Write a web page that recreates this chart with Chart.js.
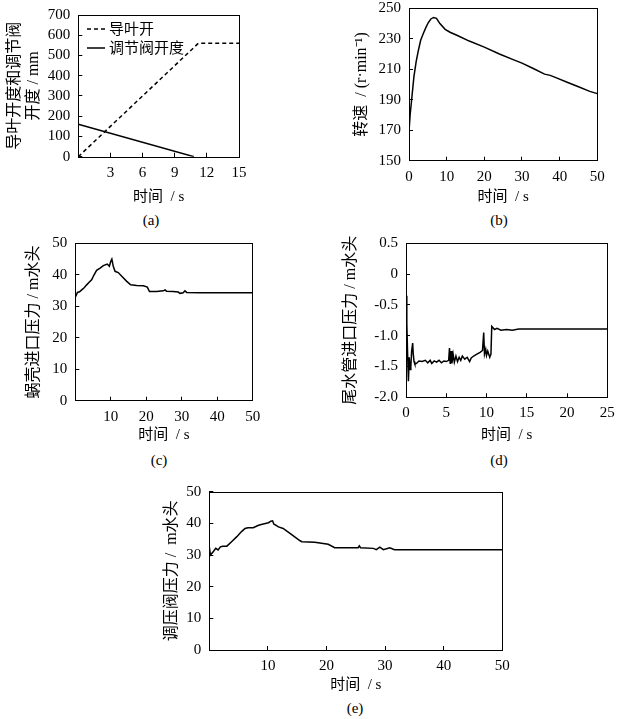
<!DOCTYPE html>
<html>
<head>
<meta charset="utf-8">
<script src="https://cdn.jsdelivr.net/npm/chart.js@4.4.0/dist/chart.umd.min.js"></script>
<style>
    body { margin: 0; background: #fff; }
    #page { position: relative; width: 625px; height: 719px; overflow: hidden;
            font-family: 'Liberation Serif', 'Noto Sans CJK SC', serif; color: #000; }
    canvas { position: absolute; }
    .tag { position: absolute; font-size: 15px; transform: translate(-50%, -50%); white-space: nowrap; }
    .legend { position: absolute; font-size: 15px; line-height: 18px; display: flex; align-items: center; white-space: nowrap; }
    .legend span { margin-left: 4px; }
</style>
</head>
<body>
<div id="page">
    <canvas id="chartA"></canvas>
    <canvas id="chartB"></canvas>
    <canvas id="chartC"></canvas>
    <canvas id="chartD"></canvas>
    <canvas id="chartE"></canvas>

    <div class="legend" style="left:87px;top:20px">
        <svg width="18" height="4"><line x1="0" y1="2" x2="18" y2="2" stroke="#000" stroke-width="1.5" stroke-dasharray="4,3"/></svg>
        <span>导叶开</span>
    </div>
    <div class="legend" style="left:87px;top:39px">
        <svg width="18" height="4"><line x1="0" y1="2" x2="18" y2="2" stroke="#000" stroke-width="1.5"/></svg>
        <span>调节阀开度</span>
    </div>

    <div class="tag" style="left:151px;top:220px">(a)</div>
    <div class="tag" style="left:499px;top:220px">(b)</div>
    <div class="tag" style="left:159px;top:460px">(c)</div>
    <div class="tag" style="left:499px;top:460px">(d)</div>
    <div class="tag" style="left:355px;top:708px">(e)</div>
</div>
<script>
// (a) guide vane and regulating valve opening, mm
const guideTime = [0, 11.2, 15];
const guideOpen = [0, 560, 560];
const valveTime = [0, 10.8];
const valveOpen = [160, 0];

// (b) unit speed, r/min
const speedTime = [0, 0.3, 0.7, 1.3, 1.9, 2.5, 3.1, 3.8, 4.5, 5.1, 5.8, 6.5, 7.3, 8.2, 9.6, 10.9,
    13, 16, 20, 24, 27.5, 30, 33, 36, 37.5, 39, 42, 45, 48, 50];
const speedVals = [169, 180, 190, 205, 215, 222.5, 229, 233.5, 237.5, 240.5, 243, 244, 243.4, 240, 236.2, 234.3,
    232, 228.5, 224.5, 220, 216.5, 214, 210.5, 206.8, 206, 204.5, 201.5, 198.5, 195.5, 194];

// (c) spiral case inlet pressure, m
const spiralTime = [0, 0.3, 0.6, 1.2, 1.8, 2.5, 3.2, 3.9, 4.6, 5.3, 6.0, 7.0, 7.9, 9.0, 9.6, 10.0, 10.3, 10.7, 11.2, 12.1,
    13.1, 14.5, 15.6, 17.3, 19.2, 20.3, 20.9, 22.9, 24.8, 25.3, 25.7, 27.6, 29.0, 29.5, 30.4, 30.9, 31.4, 35, 50];
const spiralPress = [32.9, 33.6, 34.4, 34.6, 35.2, 35.9, 36.8, 37.6, 38.4, 40.0, 41.4, 42.1, 42.9, 43.4, 42.7, 44.3, 45.0, 42.7, 41.1, 40.7,
    39.5, 37.9, 36.8, 36.6, 36.5, 36.1, 34.7, 34.7, 34.9, 35.2, 34.8, 34.7, 34.5, 34.1, 34.3, 34.9, 34.4, 34.3, 34.3];

// (d) draft tube inlet pressure, m
const draftTime = [0, 0.1, 0.2, 0.3, 0.4, 0.5, 0.6, 0.7, 0.83, 0.9, 1.0, 1.1, 1.3, 1.6, 2.0, 2.4, 2.7, 3.0, 3.2, 3.5,
    3.8, 4.1, 4.4, 4.7, 5.0, 5.3, 5.4, 5.5, 5.6, 5.7, 5.85, 6.0, 6.2, 6.4, 6.6, 6.8, 7.0, 7.3, 7.6, 7.9,
    8.1, 8.4, 8.8, 9.2, 9.5, 9.65, 9.75, 9.9, 10.0, 10.15, 10.4, 10.55, 10.65, 11.0, 11.3, 11.8, 12.5, 13.2, 14, 15, 25];
const draftPress = [-0.35, -0.8, -1.3, -1.74, -1.35, -1.55, -1.5, -1.25, -1.12, -1.3, -1.42, -1.46, -1.45, -1.41, -1.42, -1.4, -1.44, -1.4, -1.45, -1.41,
    -1.43, -1.4, -1.44, -1.41, -1.42, -1.4, -1.2, -1.46, -1.25, -1.45, -1.3, -1.43, -1.33, -1.42, -1.35, -1.4, -1.33, -1.38, -1.35, -1.42,
    -1.36, -1.33, -1.3, -1.27, -1.24, -0.95, -1.3, -1.22, -1.32, -1.25, -1.35, -1.3, -0.85, -0.9, -0.88, -0.91, -0.9, -0.91, -0.89, -0.89, -0.89];

// (e) pressure regulating valve pressure, m
const prvTime = [0, 0.2, 0.7, 1.1, 1.5, 1.9, 2.3, 3.0, 3.8, 4.7, 5.5, 6.1, 6.6, 7.5, 8.4, 9.2, 10.1, 10.5, 10.8, 11.0,
    11.8, 12.6, 14.0, 15.5, 15.8, 18.0, 20.3, 21.4, 25.4, 25.6, 25.8, 28.0, 28.5, 29.1, 29.7, 30.8, 31.6, 50];
const prvPress = [32.6, 30.0, 31.1, 32.1, 31.6, 32.6, 32.8, 32.8, 34.2, 35.8, 37.4, 38.4, 38.6, 38.6, 39.4, 39.8, 40.2, 40.7, 40.8, 39.8,
    38.9, 38.4, 36.5, 34.5, 34.2, 34.0, 33.4, 32.3, 32.3, 32.9, 32.3, 32.1, 31.7, 32.5, 31.7, 32.3, 31.7, 31.7];

const X_TITLE = '时间  / s';

Chart.defaults.font.family = "'Liberation Serif', 'Noto Sans CJK SC', serif";
Chart.defaults.font.size = 15;
Chart.defaults.color = '#000';

// box around the plot area
const framePlugin = {
    id: 'frame',
    afterDraw(chart) {
        const { ctx, chartArea: a } = chart;
        ctx.save();
        ctx.strokeStyle = '#000';
        ctx.lineWidth = 1;
        ctx.strokeRect(Math.round(a.left) + 0.5, Math.round(a.top) + 0.5,
            Math.round(a.right - a.left), Math.round(a.bottom - a.top));
        ctx.restore();
    }
};

function toPoints(xs, ys) {
    return xs.map((x, i) => ({ x: x, y: ys[i] }));
}

// keep the plot area where the layout padding puts it:
// fixed axis size and no extra room for overhanging end labels
function fixSize(scale, prop, size) {
    scale[prop] = size;
    scale.paddingLeft = 0;
    scale.paddingRight = 0;
    scale.paddingTop = 0;
    scale.paddingBottom = 0;
}

// inward tick marks, no grid lines
const tickGrid = {
    drawOnChartArea: false,
    drawTicks: true,
    tickLength: -4,
    color: '#000',
    lineWidth: 1
};

function makePanel(p) {
    const canvas = document.getElementById(p.id);
    canvas.width = p.box[2];
    canvas.height = p.box[3];
    canvas.style.left = p.box[0] + 'px';
    canvas.style.top = p.box[1] + 'px';

    return new Chart(canvas, {
        type: 'line',
        data: { datasets: p.datasets },
        options: {
            responsive: false,
            animation: false,
            layout: { padding: { top: p.padTop, right: p.padRight, left: 0, bottom: 0 } },
            plugins: {
                legend: { display: false },
                tooltip: { enabled: false }
            },
            elements: {
                point: { radius: 0 },
                line: { borderColor: '#000', borderWidth: 1.5, tension: 0 }
            },
            scales: {
                x: {
                    type: 'linear',
                    min: p.x[0],
                    max: p.x[1],
                    afterFit(scale) { fixSize(scale, 'height', p.xHeight); },
                    ticks: {
                        stepSize: p.x[2],
                        autoSkip: false,
                        maxRotation: 0,
                        padding: 11,
                        callback: (v) => (p.hideZero && v === 0) ? '' : String(v)
                    },
                    grid: tickGrid,
                    border: { display: false },
                    title: {
                        display: true,
                        text: X_TITLE,
                        font: { size: 15 },
                        padding: { top: 0, bottom: p.xTitlePad }
                    }
                },
                y: {
                    min: p.y[0],
                    max: p.y[1],
                    afterFit(scale) { fixSize(scale, 'width', p.yWidth); },
                    ticks: {
                        stepSize: p.y[2],
                        autoSkip: false,
                        padding: 12,
                        callback: p.yFormat || ((v) => String(v))
                    },
                    grid: tickGrid,
                    border: { display: false },
                    title: {
                        display: true,
                        text: p.yTitle,
                        font: { size: 16 },
                        padding: { top: p.yTitlePad, bottom: 0 }
                    }
                }
            }
        },
        plugins: [framePlugin]
    });
}

makePanel({
    id: 'chartA', box: [0, 0, 250, 208],
    padTop: 15, padRight: 11, yWidth: 78.3, xHeight: 51.3, xTitlePad: 2, yTitlePad: 5,
    x: [0, 15, 3], y: [0, 700, 100], hideZero: true,
    yTitle: ['导叶开度和调节阀', '开度 / mm'],
    datasets: [
        { label: '导叶开', data: toPoints(guideTime, guideOpen), borderDash: [4, 3] },
        { label: '调节阀开度', data: toPoints(valveTime, valveOpen) }
    ]
});

makePanel({
    id: 'chartB', box: [345, 0, 265, 208],
    padTop: 8.3, padRight: 12.7, yWidth: 64, xHeight: 47.3, xTitlePad: 2, yTitlePad: 7.4,
    x: [0, 50, 10], y: [150, 250, 20],
    yTitle: '转速  / (r·min⁻¹)',
    datasets: [{ label: '转速', data: toPoints(speedTime, speedVals) }]
});

makePanel({
    id: 'chartC', box: [0, 230, 265, 215],
    padTop: 13.3, padRight: 12.3, yWidth: 75.3, xHeight: 44.3, xTitlePad: 1, yTitlePad: 24.4,
    x: [0, 50, 10], y: [0, 50, 10], hideZero: true,
    yTitle: '蜗壳进口压力 / m水头',
    datasets: [{ label: '蜗壳进口压力', data: toPoints(spiralTime, spiralPress) }]
});

makePanel({
    id: 'chartD', box: [330, 230, 290, 215],
    padTop: 13.3, padRight: 12.7, yWidth: 76, xHeight: 47.7, xTitlePad: 1, yTitlePad: 11.4,
    x: [0, 25, 5], y: [-2, 0.5, 0.5],
    yFormat: (v) => v === 0 ? '0' : v.toFixed(1),
    yTitle: '尾水管进口压力 / m水头',
    datasets: [{ label: '尾水管进口压力', data: toPoints(draftTime, draftPress) }]
});

makePanel({
    id: 'chartE', box: [150, 480, 365, 219],
    padTop: 11.7, padRight: 12.7, yWidth: 59.3, xHeight: 49, xTitlePad: 5, yTitlePad: 11.9,
    x: [0, 50, 10], y: [0, 50, 10], hideZero: true,
    yTitle: '调压阀压力 /  m水头',
    datasets: [{ label: '调压阀压力', data: toPoints(prvTime, prvPress) }]
});
</script>
</body>
</html>
